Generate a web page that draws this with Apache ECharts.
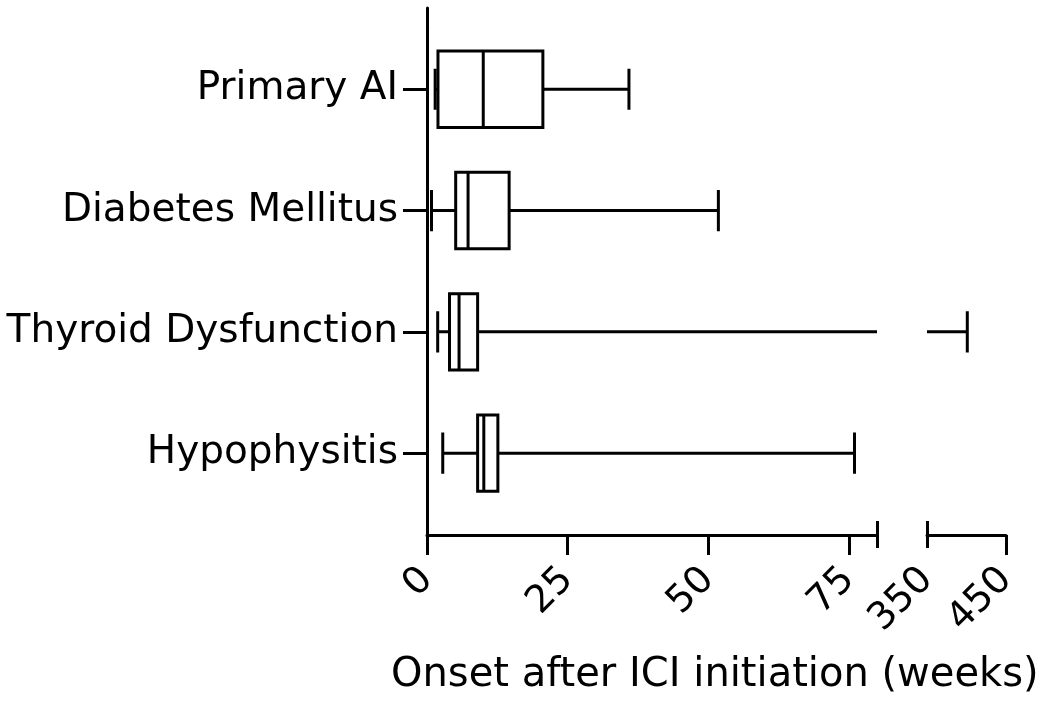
<!DOCTYPE html>
<html>
<head>
<meta charset="utf-8">
<script src="https://cdn.jsdelivr.net/npm/echarts@6/dist/echarts.min.js"></script>
<style>html,body{margin:0;padding:0;background:#fff;}#c{width:1050px;height:710px;}</style>
</head>
<body>
<div id="c"></div>
<script>
const categories = ['Primary AI', 'Diabetes Mellitus', 'Thyroid Dysfunction', 'Hypophysitis'];
const minV = [1.45, 0.8, 1.9, 2.8];
const q1V  = [1.95, 5.1, 4.0, 9.0];
const medV = [10.0, 7.3, 5.7, 10.1];
const q3V  = [20.6, 14.6, 9.0, 12.6];
const maxV = [35.9, 51.8, 401, 76.0];
const ticksLow = [0, 25, 50, 75];
const ticksHigh = [350, 450];
const breakLow = 80, breakHigh = 350;
const xTitle = 'Onset after ICI initiation (weeks)';

const FONT = 'DejaVu Sans, Liberation Sans, Arial, sans-serif';
const BLACK = '#000';
const LW = 3;

const boxData = categories.map((c, i) => [i, minV[i], q1V[i], medV[i], q3V[i], maxV[i]]);

function renderBox(params, api) {
  const idx = api.value(0);
  const vals = [api.value(1), api.value(2), api.value(3), api.value(4), api.value(5)];
  const y = api.coord([0, idx])[1];
  const band = api.size([0, 1])[1];
  const x = v => api.coord([v, idx])[0];
  const bh = band * 0.63, ch = band * 0.34;
  const st = {stroke: BLACK, lineWidth: LW, fill: null};
  const [mn, q1, md, q3, mx] = vals.map(x);
  return {
    type: 'group',
    children: [
      {type: 'line', shape: {x1: mn, y1: y, x2: q1, y2: y}, style: st},
      {type: 'line', shape: {x1: q3, y1: y, x2: mx, y2: y}, style: st},
      {type: 'line', shape: {x1: mn, y1: y - ch / 2, x2: mn, y2: y + ch / 2}, style: st},
      {type: 'line', shape: {x1: mx, y1: y - ch / 2, x2: mx, y2: y + ch / 2}, style: st},
      {type: 'rect', shape: {x: q1, y: y - bh / 2, width: q3 - q1, height: bh}, style: {stroke: BLACK, lineWidth: LW, fill: '#fff'}},
      {type: 'line', shape: {x1: md, y1: y - bh / 2, x2: md, y2: y + bh / 2}, style: st}
    ]
  };
}

const catTop = 28.6, catH = 485.2;
const axTop = 8, axH = 527;
const lowLeft = 427, lowW = 450;
const highLeft = 927, highW = 79;

const labelStyle = {color: BLACK, fontFamily: FONT, fontSize: 38};
const hidden = {show: false};

const option = {
  backgroundColor: '#fff',
  animation: false,
  title: {
    text: xTitle, left: 386, top: 651,
    textStyle: {color: BLACK, fontFamily: FONT, fontSize: 40, fontWeight: 'normal'}
  },
  grid: [
    {left: lowLeft, top: catTop, width: lowW, height: catH},
    {left: highLeft, top: catTop, width: highW, height: catH},
    {left: lowLeft, top: axTop, width: lowW, height: axH},
    {left: highLeft, top: axTop, width: highW, height: axH}
  ],
  xAxis: [
    {gridIndex: 0, type: 'value', min: 0, max: breakLow, show: false},
    {gridIndex: 1, type: 'value', min: breakHigh, max: 450, show: false},
    {gridIndex: 2, type: 'value', min: 0, max: breakLow, position: 'bottom',
      axisLine: {onZero: false, lineStyle: {color: BLACK, width: LW}},
      axisTick: {customValues: ticksLow, length: 20, lineStyle: {color: BLACK, width: LW}},
      axisLabel: Object.assign({customValues: ticksLow, rotate: 45, margin: 39}, labelStyle),
      splitLine: hidden},
    {gridIndex: 3, type: 'value', min: breakHigh, max: 450, position: 'bottom',
      axisLine: {onZero: false, lineStyle: {color: BLACK, width: LW}},
      axisTick: {customValues: [450], length: 20, lineStyle: {color: BLACK, width: LW}},
      axisLabel: Object.assign({customValues: ticksHigh, rotate: 45, margin: 39}, labelStyle),
      splitLine: hidden},
    {gridIndex: 2, type: 'value', min: 0, max: breakLow, position: 'bottom',
      axisLine: {show: false, onZero: false},
      axisTick: {customValues: [breakLow], inside: true, length: 14, lineStyle: {color: BLACK, width: LW}},
      axisLabel: hidden, splitLine: hidden},
    {gridIndex: 2, type: 'value', min: 0, max: breakLow, position: 'bottom',
      axisLine: {show: false, onZero: false},
      axisTick: {customValues: [breakLow], inside: false, length: 13, lineStyle: {color: BLACK, width: LW}},
      axisLabel: hidden, splitLine: hidden},
    {gridIndex: 3, type: 'value', min: breakHigh, max: 450, position: 'bottom',
      axisLine: {show: false, onZero: false},
      axisTick: {customValues: [breakHigh], inside: true, length: 14, lineStyle: {color: BLACK, width: LW}},
      axisLabel: hidden, splitLine: hidden},
    {gridIndex: 3, type: 'value', min: breakHigh, max: 450, position: 'bottom',
      axisLine: {show: false, onZero: false},
      axisTick: {customValues: [breakHigh], inside: false, length: 13, lineStyle: {color: BLACK, width: LW}},
      axisLabel: hidden, splitLine: hidden}
  ],
  yAxis: [
    {gridIndex: 0, type: 'category', data: categories, inverse: true,
      axisLine: {show: true, onZero: false, lineStyle: {color: BLACK, width: LW}},
      axisTick: {show: true, alignWithLabel: true, length: 24, lineStyle: {color: BLACK, width: LW}},
      axisLabel: Object.assign({margin: 29}, labelStyle, {fontSize: 39}),
      splitLine: hidden},
    {gridIndex: 1, type: 'category', data: categories, inverse: true, show: false},
    {gridIndex: 2, type: 'value', min: 0, max: 1,
      axisLine: {show: true, onZero: false, lineStyle: {color: BLACK, width: LW}},
      axisTick: hidden, axisLabel: hidden, splitLine: hidden},
    {gridIndex: 3, type: 'value', min: 0, max: 1, show: false}
  ],
  series: [
    {type: 'custom', xAxisIndex: 0, yAxisIndex: 0, clip: true, renderItem: renderBox,
      encode: {x: [1, 2, 3, 4, 5], y: 0}, data: boxData, z: 5},
    {type: 'custom', xAxisIndex: 1, yAxisIndex: 1, clip: true, renderItem: renderBox,
      encode: {x: [1, 2, 3, 4, 5], y: 0}, data: boxData, z: 5}
  ]
};

const chart = echarts.init(document.getElementById('c'), null, {renderer: 'canvas'});
chart.setOption(option);
</script>
</body>
</html>
